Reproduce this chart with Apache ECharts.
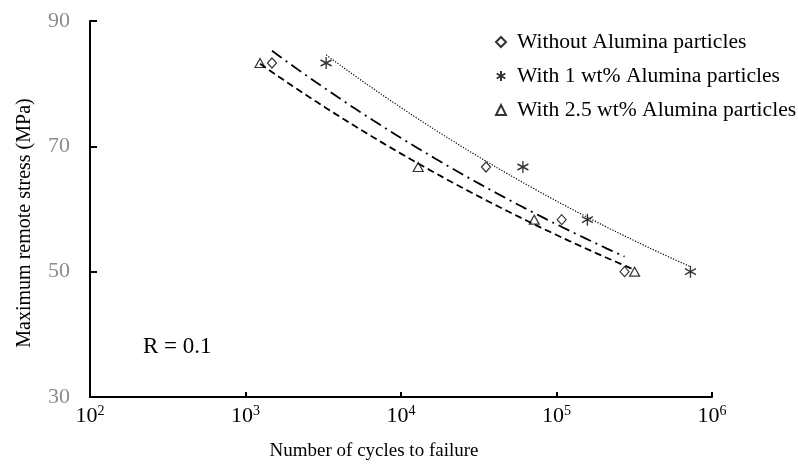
<!DOCTYPE html>
<html>
<head>
<meta charset="utf-8">
<script src="https://cdn.jsdelivr.net/npm/echarts@6/dist/echarts.min.js"></script>
<style>
  html, body { margin: 0; padding: 0; background: #fff; }
  #chart { width: 798px; height: 465px; }
</style>
</head>
<body>
<div id="chart"></div>
<script>
// S-N data: number of cycles to failure vs maximum remote stress (MPa)
const seriesNames = ['Without Alumina particles', 'With 1 wt% Alumina particles', 'With 2.5 wt% Alumina particles'];
const cyclesWithout = [1480, 35200, 108000, 274000];
const stressWithout = [83.3, 66.7, 58.3, 50];
const cycles1wt = [3300, 60800, 158000, 727000];
const stress1wt = [83.3, 66.7, 58.3, 50];
const cycles25wt = [1240, 12900, 71900, 318000];
const stress25wt = [83.3, 66.7, 58.3, 50];
const yTicks = [30, 50, 70, 90];
const xRange = [100, 1000000];

const FONT = '"Liberation Serif", "Times New Roman", serif';

// Least-squares power-law fit  S = a * N^b  (linear regression in log-log space)
function powerFit(xs, ys) {
  const lx = xs.map(Math.log), ly = ys.map(Math.log);
  const n = xs.length;
  const mx = lx.reduce((s, v) => s + v, 0) / n;
  const my = ly.reduce((s, v) => s + v, 0) / n;
  let sxy = 0, sxx = 0;
  for (let i = 0; i < n; i++) {
    sxy += (lx[i] - mx) * (ly[i] - my);
    sxx += (lx[i] - mx) * (lx[i] - mx);
  }
  const b = sxy / sxx;
  return { a: Math.exp(my - b * mx), b: b };
}

// Sample the fitted curve across the series' own range of cycles
function trendLine(xs, ys) {
  const f = powerFit(xs, ys);
  const lo = Math.log10(Math.min(...xs)), hi = Math.log10(Math.max(...xs));
  const pts = [];
  const steps = 80;
  for (let i = 0; i <= steps; i++) {
    const x = Math.pow(10, lo + (hi - lo) * i / steps);
    pts.push([x, f.a * Math.pow(x, f.b)]);
  }
  return pts;
}

const zip = (xs, ys) => xs.map((x, i) => [x, ys[i]]);

const asterisk = 'path://M5,0L5,10M0.67,2.5L9.33,7.5M0.67,7.5L9.33,2.5';

const markerStyle = { color: 'transparent', borderColor: '#000', borderWidth: 1.2 };

const chart = echarts.init(document.getElementById('chart'));
chart.setOption({
  backgroundColor: '#fff',
  animation: false,
  textStyle: { fontFamily: FONT },
  grid: { left: 90, right: 86, top: 21, bottom: 68, containLabel: false },
  legend: {
    data: seriesNames,
    orient: 'vertical',
    left: 490,
    top: 26,
    itemWidth: 10,
    itemHeight: 10,
    itemGap: 12,
    textStyle: { fontFamily: FONT, fontSize: 21.6, color: '#000', lineHeight: 22, padding: [0, 0, 0, 6] }
  },
  xAxis: {
    type: 'log',
    logBase: 10,
    min: xRange[0],
    max: xRange[1],
    axisLine: { lineStyle: { color: '#000', width: 2 } },
    axisTick: { inside: true, length: 5, lineStyle: { color: '#000', width: 2 } },
    splitLine: { show: false },
    minorTick: { show: false },
    axisLabel: {
      margin: 7,
      formatter: function (v) {
        return '{b|10}{s|' + Math.round(Math.log10(v)) + '}';
      },
      rich: {
        b: { fontFamily: FONT, fontSize: 22, color: '#000', lineHeight: 24 },
        s: { fontFamily: FONT, fontSize: 14, color: '#000', verticalAlign: 'top', lineHeight: 24, padding: [0, 0, 9, 0] }
      }
    }
  },
  yAxis: {
    type: 'value',
    min: yTicks[0],
    max: yTicks[yTicks.length - 1],
    interval: yTicks[1] - yTicks[0],
    axisLine: { show: true, lineStyle: { color: '#000', width: 2 } },
    axisTick: { show: true, inside: true, length: 7, lineStyle: { color: '#000', width: 2 } },
    splitLine: { show: false },
    axisLabel: { margin: 20, fontFamily: FONT, fontSize: 22, color: '#8c8c8c' }
  },
  graphic: [
    {
      type: 'text', x: 25, y: 223, rotation: Math.PI / 2,
      style: { text: 'Maximum remote stress (MPa)', font: '20px ' + FONT, fill: '#000', textAlign: 'center', textVerticalAlign: 'middle' }
    },
    {
      type: 'text', x: 374, y: 451,
      style: { text: 'Number of cycles to failure', font: '19px ' + FONT, fill: '#000', textAlign: 'center', textVerticalAlign: 'middle' }
    },
    {
      type: 'text', x: 143, y: 347,
      style: { text: 'R = 0.1', font: '23px ' + FONT, fill: '#000', textAlign: 'left', textVerticalAlign: 'middle' }
    }
  ],
  series: [
    {
      name: 'Without trend', type: 'line', data: trendLine(cyclesWithout, stressWithout),
      showSymbol: false, silent: true, z: 1,
      lineStyle: { color: '#000', width: 1.8, type: [12, 5, 2, 5] }
    },
    {
      name: '1 wt% trend', type: 'line', data: trendLine(cycles1wt, stress1wt),
      showSymbol: false, silent: true, z: 1,
      lineStyle: { color: '#000', width: 1.2, type: [1.2, 1.6] }
    },
    {
      name: '2.5 wt% trend', type: 'line', data: trendLine(cycles25wt, stress25wt),
      showSymbol: false, silent: true, z: 1,
      lineStyle: { color: '#000', width: 1.8, type: [7, 4] }
    },
    {
      name: seriesNames[0], type: 'scatter', data: zip(cyclesWithout, stressWithout),
      symbol: 'diamond', symbolSize: [9, 10], itemStyle: markerStyle, z: 3
    },
    {
      name: seriesNames[1], type: 'scatter', data: zip(cycles1wt, stress1wt),
      symbol: asterisk, symbolSize: [11, 12], itemStyle: { color: 'transparent', borderColor: '#000', borderWidth: 1.4 }, z: 3
    },
    {
      name: seriesNames[2], type: 'scatter', data: zip(cycles25wt, stress25wt),
      symbol: 'triangle', symbolSize: [10, 9], itemStyle: markerStyle, z: 3
    }
  ]
});
</script>
</body>
</html>
